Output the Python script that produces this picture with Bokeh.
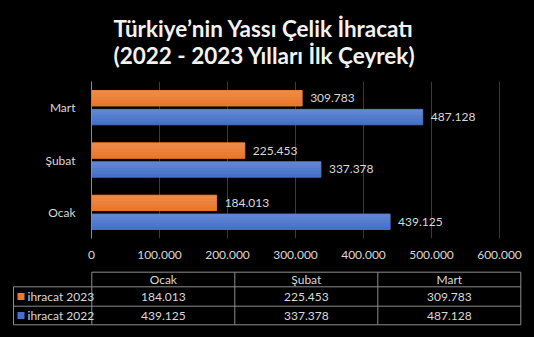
from bokeh.plotting import figure
from bokeh.models import (ColumnDataSource, FactorRange, Range1d, FixedTicker,
                          CustomJSTickFormatter)
from bokeh.transform import dodge
from bokeh.layouts import column, row
from bokeh.core.properties import value
from bokeh.embed import file_html
from bokeh.resources import INLINE

# ---- data ----
months = ["Ocak", "Şubat", "Mart"]
series_names = ["ihracat 2023", "ihracat 2022"]
exports_2023 = [184013, 225453, 309783]
exports_2022 = [439125, 337378, 487128]
x_ticks = [0, 100000, 200000, 300000, 400000, 500000, 600000]
title_line1 = "Türkiye’nin Yassı Çelik İhracatı"
title_line2 = "(2022 - 2023 Yılları İlk Çeyrek)"

def fmt(v):
    return f"{v:,}".replace(",", ".")

ORANGE = "#EC7728"
BLUE = "#4571C9"
TXT = "#d9d9d9"
FONT = "Lato"

W = 534
src = ColumnDataSource(dict(
    month=months,
    v23=exports_2023, v22=exports_2022,
    l23=[fmt(v) for v in exports_2023],
    l22=[fmt(v) for v in exports_2022],
))

# frame: x 91..520, y 80..238
x_end = 600000 * (520 - 91) / (499 - 91)
p = figure(width=W, height=264, y_range=FactorRange(*months, range_padding=0),
           x_range=Range1d(0, x_end), output_backend="svg", toolbar_location=None,
           min_border_left=91, min_border_right=14, min_border_top=80, min_border_bottom=26)
p.background_fill_color = "black"
p.border_fill_color = "black"
p.outline_line_color = None

p.title.text = title_line1 + "\n" + title_line2
p.title.align = "left"
p.title.offset = 22
p.title.text_color = "#f2f2f2"
p.title.text_font = FONT
p.title.text_font_size = "22.5px"
p.title.text_font_style = "bold"
p.title.text_line_height = 1.0
p.title.standoff = 25

OFF, H = 0.18, 0.295
for vals, off, col in (("v23", OFF, ORANGE), ("v22", -OFF, BLUE)):
    p.hbar(y=dodge("month", off, range=p.y_range), right=vals, left=0, height=H,
           source=src, color=col)
    # soft vertical gradient: lighter toward the top of each bar
    for k in range(1, 5):
        hk = H * k / 5
        p.hbar(y=dodge("month", off + H / 2 - hk / 2, range=p.y_range), right=vals, left=0,
               height=hk, source=src, fill_color="white", fill_alpha=0.045, line_color=None)

p.text(x="v23", y=dodge("month", OFF, range=p.y_range), text="l23", source=src,
       x_offset=8, text_baseline="middle", text_align="left", text_color=TXT,
       text_font=value(FONT), text_font_size="12px")
p.text(x="v22", y=dodge("month", -OFF, range=p.y_range), text="l22", source=src,
       x_offset=8, text_baseline="middle", text_align="left", text_color=TXT,
       text_font=value(FONT), text_font_size="12px")

p.xaxis.ticker = FixedTicker(ticks=x_ticks)
p.xaxis.formatter = CustomJSTickFormatter(code="""
if (tick == 0) return '0';
var k = Math.floor(tick/1000), r = Math.round(tick % 1000);
return k + '.' + String(r).padStart(3, '0');
""")
p.xaxis.axis_line_color = None
p.xaxis.major_tick_line_color = None
p.xaxis.minor_tick_line_color = None
p.xaxis.major_label_standoff = 6
p.xaxis.major_label_text_color = TXT
p.xaxis.major_label_text_font = FONT
p.xaxis.major_label_text_font_size = "12px"

p.yaxis.axis_line_color = "#898989"
p.yaxis.major_tick_line_color = None
p.yaxis.minor_tick_line_color = None
p.yaxis.major_label_standoff = 10
p.yaxis.major_label_text_color = TXT
p.yaxis.major_label_text_font = FONT
p.yaxis.major_label_text_font_size = "12px"

p.xgrid.grid_line_color = "#3a3a3a"
p.ygrid.grid_line_color = None

# ---- data table below ----
H2 = 337 - 264
t = figure(width=W, height=H2, x_range=Range1d(0, W), y_range=Range1d(H2, 0),
           output_backend="svg", toolbar_location=None,
           x_axis_location=None, y_axis_location=None,
           min_border=0, min_border_left=0, min_border_right=0,
           min_border_top=0, min_border_bottom=0)
t.background_fill_color = "black"
t.border_fill_color = "black"
t.outline_line_color = None
t.grid.visible = False

L0, C0, CW = 13, 91.3, 143
rows_y = [7.7, 22.3, 41.7, 60.3]
ncol = len(months)
right = C0 + CW * ncol
GRID = "#8c8c8c"
t.segment(x0=[C0, L0, L0, L0], y0=rows_y, x1=[right] * 4, y1=rows_y,
          line_color=GRID, line_width=1)
vx = [L0] + [C0 + CW * i for i in range(ncol + 1)]
vy0 = [rows_y[1]] + [rows_y[0]] * (ncol + 1)
t.segment(x0=vx, y0=vy0, x1=vx, y1=[rows_y[3]] * len(vx), line_color=GRID, line_width=1)

centers = [C0 + CW * (i + 0.5) for i in range(ncol)]
mid = [(rows_y[i] + rows_y[i + 1]) / 2 for i in range(3)]
t.text(x=centers, y=[mid[0]] * ncol, text=months, text_align="center",
       text_baseline="middle", text_color=TXT, text_font=value(FONT), text_font_size="12px")
t.text(x=centers, y=[mid[1]] * ncol, text=[fmt(v) for v in exports_2023], text_align="center",
       text_baseline="middle", text_color=TXT, text_font=value(FONT), text_font_size="12px")
t.text(x=centers, y=[mid[2]] * ncol, text=[fmt(v) for v in exports_2022], text_align="center",
       text_baseline="middle", text_color=TXT, text_font=value(FONT), text_font_size="12px")
t.scatter(x=[20.5, 20.5], y=[mid[1], mid[2]], marker="square", size=7,
          color=[ORANGE, BLUE], line_color=None)
t.text(x=[27, 27], y=[mid[1], mid[2]], text=series_names, text_align="left",
       text_baseline="middle", text_color=TXT, text_font=value(FONT), text_font_size="12px")

layout = column(p, row(t), spacing=0)
layout.styles = {"background-color": "black"}
open("out.html", "w").write(file_html(layout, INLINE))
